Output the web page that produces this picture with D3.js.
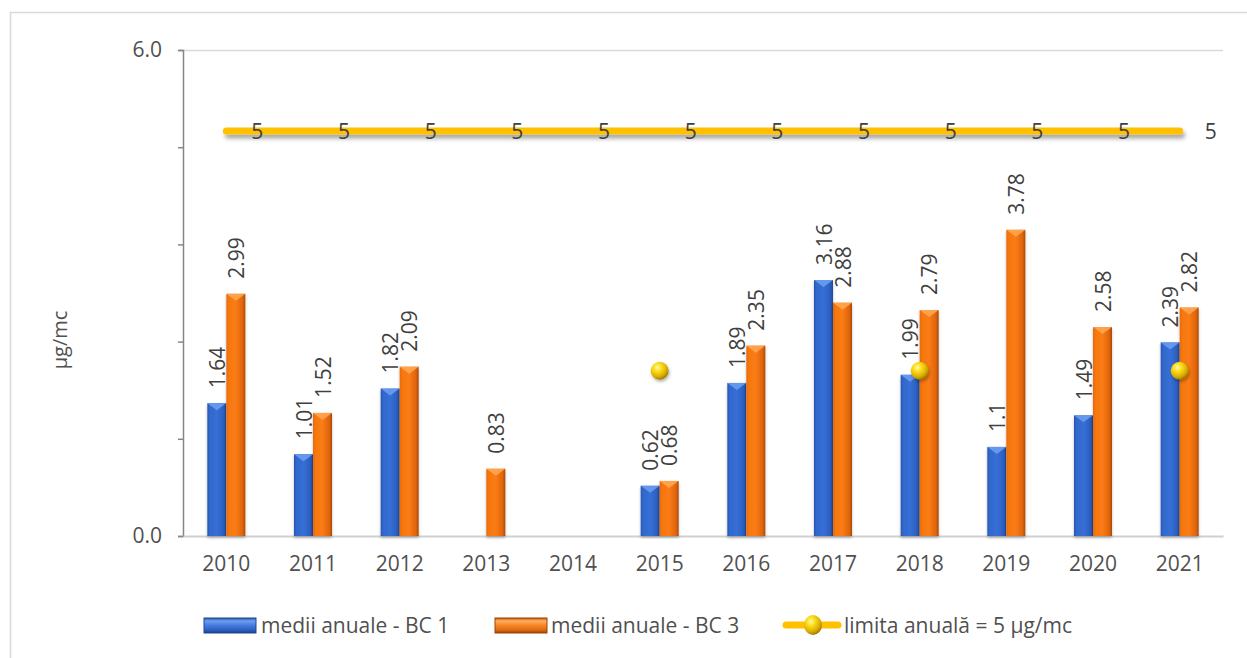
<!DOCTYPE html>
<html>
<head>
<meta charset="utf-8">
<script src="https://cdn.jsdelivr.net/npm/d3@7"></script>
<style>
  html, body { margin: 0; padding: 0; background: #ffffff; }
  svg { display: block; font-family: "Open Sans", "Liberation Sans", sans-serif; }
</style>
</head>
<body>
<svg id="chart" width="1247" height="658"></svg>
<script>
// ---- data ----
const years = ["2010","2011","2012","2013","2014","2015","2016","2017","2018","2019","2020","2021"];
const bc1 = [1.64, 1.01, 1.82, null, null, 0.62, 1.89, 3.16, 1.99, 1.1, 1.49, 2.39];
const bc3 = [2.99, 1.52, 2.09, 0.83, null, 0.68, 2.35, 2.88, 2.79, 3.78, 2.58, 2.82];
const limit = [5, 5, 5, 5, 5, 5, 5, 5, 5, 5, 5, 5];
const markerYears = ["2015", "2018", "2021"];
const markerValues = [2.04, 2.04, 2.04];
const yTicks = [0, 1.2, 2.4, 3.6, 4.8, 6.0];
const yTickLabels = ["0.0", "", "", "", "", "6.0"];
const seriesNames = ["medii anuale - BC 1", "medii anuale - BC 3", "limita anuală = 5 µg/mc"];
const yTitle = "µg/mc";

// ---- layout ----
const svg = d3.select("#chart");
const L = 183, R = 1223, T = 50, B = 536;
const FS = "21px";
const x = d3.scaleBand().domain(years).range([L, R]).padding(0);
const y = d3.scaleLinear().domain([0, 6]).range([B, T]);
const barW = 19;
const sub = d3.scaleBand().domain(["bc1", "bc3"]).range([-barW, barW]).padding(0);
const cx = d => x(d) + x.bandwidth() / 2;

const defs = svg.append("defs");
function hGrad(id, stops) {
  const g = defs.append("linearGradient").attr("id", id).attr("x1", "0").attr("x2", "1").attr("y1", "0").attr("y2", "0");
  stops.forEach(s => g.append("stop").attr("offset", s[0]).attr("stop-color", s[1]));
}
function vGrad(id, stops) {
  const g = defs.append("linearGradient").attr("id", id).attr("x1", "0").attr("x2", "0").attr("y1", "0").attr("y2", "1");
  stops.forEach(s => g.append("stop").attr("offset", s[0]).attr("stop-color", s[1]));
}
hGrad("gBlue", [["0", "#2753b0"], ["0.12", "#3068cc"], ["0.5", "#366fd6"], ["0.85", "#2c5fc0"], ["1", "#1f4796"]]);
hGrad("gOrange", [["0", "#e8690b"], ["0.15", "#f7780f"], ["0.5", "#fa7b14"], ["0.85", "#e0650a"], ["1", "#a84a05"]]);
vGrad("gLegBlue", [["0", "#2a55a8"], ["0.2", "#6d9ff0"], ["0.45", "#4a80e0"], ["0.8", "#2e5fc0"], ["1", "#1c3f86"]]);
vGrad("gLegOrange", [["0", "#c45a08"], ["0.2", "#ffb060"], ["0.45", "#f88a2c"], ["0.8", "#e06a0c"], ["1", "#9a4404"]]);
const rg = defs.append("radialGradient").attr("id", "gBall").attr("cx", "0.38").attr("cy", "0.32").attr("r", "0.7");
[["0", "#fff9b0"], ["0.3", "#ffe020"], ["0.75", "#d9ac00"], ["1", "#9c7400"]].forEach(s => rg.append("stop").attr("offset", s[0]).attr("stop-color", s[1]));
const sh = defs.append("filter").attr("id", "shadow").attr("filterUnits", "userSpaceOnUse")
  .attr("x", 0).attr("y", 0).attr("width", 1247).attr("height", 658);
sh.append("feDropShadow").attr("dx", 2).attr("dy", 4).attr("stdDeviation", 2.2).attr("flood-color", "#000").attr("flood-opacity", 0.35);
const sh2 = defs.append("filter").attr("id", "ballShadow").attr("x", "-60%").attr("y", "-60%").attr("width", "220%").attr("height", "220%");
sh2.append("feDropShadow").attr("dx", 1).attr("dy", 2).attr("stdDeviation", 1.5).attr("flood-color", "#000").attr("flood-opacity", 0.3);
const sh3 = defs.append("filter").attr("id", "barShadow").attr("x", "-30%").attr("y", "-5%").attr("width", "160%").attr("height", "110%");
sh3.append("feDropShadow").attr("dx", 0).attr("dy", 2).attr("stdDeviation", 1.5).attr("flood-color", "#000").attr("flood-opacity", 0.25);

// outer border
svg.append("rect").attr("x", 10.5).attr("y", 12.5).attr("width", 1300).attr("height", 700)
  .attr("fill", "#fff").attr("stroke", "#d9d9d9").attr("stroke-width", 1.5);

// top border of plot
svg.append("line").attr("x1", L).attr("x2", R).attr("y1", T + 0.5).attr("y2", T + 0.5)
  .attr("stroke", "#d9d9d9").attr("stroke-width", 1.5);

// y axis
const yAxis = d3.axisLeft(y).tickValues(yTicks).tickSize(5).tickFormat((d, i) => yTickLabels[i]);
const gy = svg.append("g").attr("transform", `translate(${L},0)`).call(yAxis);
gy.select(".domain").attr("stroke", "#868686").attr("stroke-width", 1.5);
gy.selectAll(".tick line").attr("stroke", "#868686").attr("stroke-width", 1.5);
gy.selectAll(".tick text").attr("x", -21).attr("fill", "#505050").style("font-size", FS).style("font-family", "Open Sans");

// x axis
const xAxis = d3.axisBottom(x).tickSize(0);
const gx = svg.append("g").attr("transform", `translate(0,${B})`).call(xAxis);
gx.select(".domain").attr("stroke", "#d0d0d0").attr("stroke-width", 2);
gx.selectAll(".tick text").attr("y", 20).attr("fill", "#505050").style("font-size", FS).style("font-family", "Open Sans");

// y title
svg.append("text").attr("transform", `translate(67,340) rotate(-90)`).attr("text-anchor", "middle")
  .attr("fill", "#505050").style("font-size", "20px").text(yTitle);

// bars
function drawBars(vals, key, grad, bevel) {
  const data = years.map((yr, i) => ({ yr, v: vals[i] })).filter(d => d.v != null);
  const g = svg.append("g");
  const bx = d => x(d.yr) + x.bandwidth() / 2 + sub(key);
  g.selectAll("rect").data(data).enter().append("rect")
    .attr("x", bx).attr("y", d => y(d.v)).attr("width", barW).attr("height", d => B - y(d.v))
    .attr("fill", `url(#${grad})`).attr("filter", "url(#barShadow)");
  g.selectAll("path").data(data).enter().append("path")
    .attr("d", d => {
      const x0 = bx(d), t = y(d.v);
      return `M${x0},${t}L${x0 + barW},${t}L${x0 + barW / 2},${t + 7}Z`;
    })
    .attr("fill", bevel).attr("opacity", 0.9);
  g.selectAll("text").data(data).enter().append("text")
    .attr("transform", d => `translate(${bx(d) + barW / 2 + 8},${y(d.v) - 15}) rotate(-90)`)
    .attr("text-anchor", "start").attr("fill", "#404040").style("font-size", FS)
    .text(d => d.v);
}
drawBars(bc1, "bc1", "gBlue", "#6a9cf0");
drawBars(bc3, "bc3", "gOrange", "#ffa650");

// limit line
const line = d3.line().x((d, i) => cx(years[i])).y(d => y(d));
svg.append("path").datum(limit).attr("d", line).attr("fill", "none")
  .attr("stroke", "#ffc000").attr("stroke-width", 7).attr("stroke-linecap", "round")
  .attr("filter", "url(#shadow)");
svg.append("g").selectAll("text").data(limit).enter().append("text")
  .attr("x", (d, i) => cx(years[i]) + 31).attr("y", d => y(d) + 8)
  .attr("text-anchor", "middle").attr("fill", "#404040").style("font-size", FS).text(d => d);

// markers
svg.append("g").selectAll("circle").data(markerYears).enter().append("circle")
  .attr("cx", d => cx(d)).attr("cy", (d, i) => y(markerValues[i])).attr("r", 9)
  .attr("fill", "url(#gBall)").attr("filter", "url(#ballShadow)");

// legend
const lg = svg.append("g");
lg.append("rect").attr("x", 204).attr("y", 618).attr("width", 52).attr("height", 15)
  .attr("fill", "url(#gLegBlue)").attr("stroke", "#1f4796").attr("stroke-width", 1);
lg.append("text").attr("x", 261).attr("y", 633).attr("fill", "#505050").style("font-size", FS).text(seriesNames[0]);
lg.append("rect").attr("x", 495).attr("y", 618).attr("width", 52).attr("height", 15)
  .attr("fill", "url(#gLegOrange)").attr("stroke", "#9a4404").attr("stroke-width", 1);
lg.append("text").attr("x", 551).attr("y", 633).attr("fill", "#505050").style("font-size", FS).text(seriesNames[1]);
lg.append("line").attr("x1", 786).attr("x2", 838).attr("y1", 625).attr("y2", 625)
  .attr("stroke", "#ffc000").attr("stroke-width", 7).attr("stroke-linecap", "round");
lg.append("ellipse").attr("cx", 813).attr("cy", 625).attr("rx", 9).attr("ry", 10).attr("fill", "url(#gBall)");
lg.append("text").attr("x", 844).attr("y", 633).attr("fill", "#505050").style("font-size", FS).text(seriesNames[2]);
</script>
</body>
</html>
